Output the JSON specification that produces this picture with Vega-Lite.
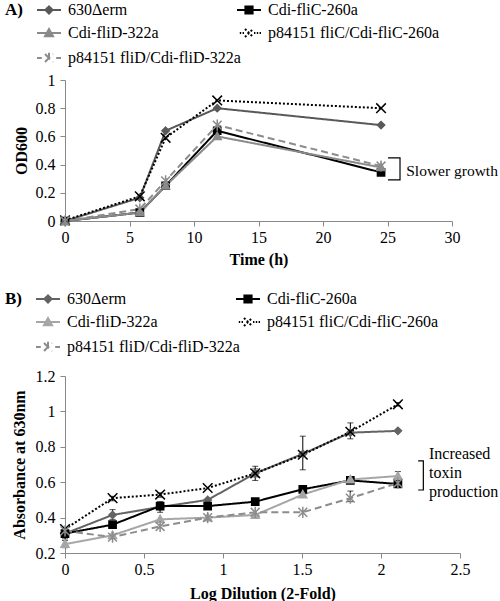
{
  "$schema": "https://vega.github.io/schema/vega-lite/v6.json",
  "background": "white",
  "padding": {"left": 5, "top": 2, "right": 0, "bottom": 0},
  "bounds": "flush",
  "spacing": 155,
  "config": {
    "font": "Liberation Serif",
    "view": {"stroke": null},
    "axis": {
      "grid": false,
      "domainColor": "#898989",
      "tickColor": "#898989",
      "tickSize": 5,
      "labelOverlap": false,
      "labelFont": "Liberation Serif",
      "titleFont": "Liberation Serif",
      "labelFontSize": 16,
      "titleFontSize": 16,
      "titleFontWeight": "bold",
      "labelColor": "#000000",
      "titleColor": "#000000"
    },
    "axisX": {"labelPadding": 3, "titlePadding": 6, "labelFlush": false},
    "axisY": {"labelPadding": 5, "titlePadding": 7},
    "legend": {
      "labelFont": "Liberation Serif",
      "labelFontSize": 16,
      "labelColor": "#000000",
      "titleFont": "Liberation Serif",
      "titleFontSize": 17,
      "titleFontWeight": "bold",
      "titleColor": "#000000",
      "titleOrient": "left",
      "titleAnchor": "start",
      "titlePadding": 18,
      "columns": 2,
      "direction": "horizontal",
      "columnPadding": -11,
      "rowPadding": 7,
      "symbolSize": 64,
      "symbolStrokeWidth": 2,
      "labelOffset": 11,
      "labelLimit": 300
    }
  },
  "datasets": {
    "growth": [
      {"series": "630Δerm", "time": 0, "od": 0},
      {"series": "630Δerm", "time": 5.8, "od": 0.165},
      {"series": "630Δerm", "time": 7.8, "od": 0.64},
      {"series": "630Δerm", "time": 11.8, "od": 0.8},
      {"series": "630Δerm", "time": 24.5, "od": 0.68},
      {"series": "Cdi-fliC-260a", "time": 0, "od": 0},
      {"series": "Cdi-fliC-260a", "time": 5.8, "od": 0.06},
      {"series": "Cdi-fliC-260a", "time": 7.8, "od": 0.25},
      {"series": "Cdi-fliC-260a", "time": 11.8, "od": 0.64},
      {"series": "Cdi-fliC-260a", "time": 24.5, "od": 0.345},
      {"series": "Cdi-fliD-322a", "time": 0, "od": 0},
      {"series": "Cdi-fliD-322a", "time": 5.8, "od": 0.06},
      {"series": "Cdi-fliD-322a", "time": 7.8, "od": 0.25},
      {"series": "Cdi-fliD-322a", "time": 11.8, "od": 0.6},
      {"series": "Cdi-fliD-322a", "time": 24.5, "od": 0.38},
      {"series": "p84151 fliC/Cdi-fliC-260a", "time": 0, "od": 0.005},
      {"series": "p84151 fliC/Cdi-fliC-260a", "time": 5.8, "od": 0.175},
      {"series": "p84151 fliC/Cdi-fliC-260a", "time": 7.8, "od": 0.59},
      {"series": "p84151 fliC/Cdi-fliC-260a", "time": 11.8, "od": 0.855},
      {"series": "p84151 fliC/Cdi-fliC-260a", "time": 24.5, "od": 0.8},
      {"series": "p84151 fliD/Cdi-fliD-322a", "time": 0, "od": 0},
      {"series": "p84151 fliD/Cdi-fliD-322a", "time": 5.8, "od": 0.085},
      {"series": "p84151 fliD/Cdi-fliD-322a", "time": 7.8, "od": 0.285},
      {"series": "p84151 fliD/Cdi-fliD-322a", "time": 11.8, "od": 0.68},
      {"series": "p84151 fliD/Cdi-fliD-322a", "time": 24.5, "od": 0.39}
    ],
    "toxin": [
      {"series": "630Δerm", "dil": 0, "abs": 0.31, "lo": null, "hi": null},
      {"series": "630Δerm", "dil": 0.301, "abs": 0.415, "lo": 0.39, "hi": 0.445},
      {"series": "630Δerm", "dil": 0.602, "abs": 0.46, "lo": null, "hi": null},
      {"series": "630Δerm", "dil": 0.903, "abs": 0.5, "lo": null, "hi": null},
      {"series": "630Δerm", "dil": 1.204, "abs": 0.65, "lo": 0.61, "hi": 0.69},
      {"series": "630Δerm", "dil": 1.505, "abs": 0.76, "lo": 0.67, "hi": 0.86},
      {"series": "630Δerm", "dil": 1.806, "abs": 0.88, "lo": 0.845, "hi": 0.935},
      {"series": "630Δerm", "dil": 2.107, "abs": 0.89, "lo": null, "hi": null},
      {"series": "Cdi-fliC-260a", "dil": 0, "abs": 0.31, "lo": 0.28, "hi": 0.335},
      {"series": "Cdi-fliC-260a", "dil": 0.301, "abs": 0.36, "lo": null, "hi": null},
      {"series": "Cdi-fliC-260a", "dil": 0.602, "abs": 0.465, "lo": 0.43, "hi": 0.49},
      {"series": "Cdi-fliC-260a", "dil": 0.903, "abs": 0.465, "lo": null, "hi": null},
      {"series": "Cdi-fliC-260a", "dil": 1.204, "abs": 0.49, "lo": null, "hi": null},
      {"series": "Cdi-fliC-260a", "dil": 1.505, "abs": 0.56, "lo": null, "hi": null},
      {"series": "Cdi-fliC-260a", "dil": 1.806, "abs": 0.61, "lo": null, "hi": null},
      {"series": "Cdi-fliC-260a", "dil": 2.107, "abs": 0.59, "lo": 0.57, "hi": 0.61},
      {"series": "Cdi-fliD-322a", "dil": 0, "abs": 0.25, "lo": 0.23, "hi": 0.27},
      {"series": "Cdi-fliD-322a", "dil": 0.301, "abs": 0.3, "lo": null, "hi": null},
      {"series": "Cdi-fliD-322a", "dil": 0.602, "abs": 0.39, "lo": null, "hi": null},
      {"series": "Cdi-fliD-322a", "dil": 0.903, "abs": 0.4, "lo": null, "hi": null},
      {"series": "Cdi-fliD-322a", "dil": 1.204, "abs": 0.415, "lo": null, "hi": null},
      {"series": "Cdi-fliD-322a", "dil": 1.505, "abs": 0.53, "lo": null, "hi": null},
      {"series": "Cdi-fliD-322a", "dil": 1.806, "abs": 0.615, "lo": null, "hi": null},
      {"series": "Cdi-fliD-322a", "dil": 2.107, "abs": 0.635, "lo": 0.61, "hi": 0.66},
      {"series": "p84151 fliC/Cdi-fliC-260a", "dil": 0, "abs": 0.335, "lo": null, "hi": null},
      {"series": "p84151 fliC/Cdi-fliC-260a", "dil": 0.301, "abs": 0.51, "lo": 0.495, "hi": 0.52},
      {"series": "p84151 fliC/Cdi-fliC-260a", "dil": 0.602, "abs": 0.53, "lo": 0.515, "hi": 0.54},
      {"series": "p84151 fliC/Cdi-fliC-260a", "dil": 0.903, "abs": 0.567, "lo": null, "hi": null},
      {"series": "p84151 fliC/Cdi-fliC-260a", "dil": 1.204, "abs": 0.65, "lo": 0.63, "hi": 0.675},
      {"series": "p84151 fliC/Cdi-fliC-260a", "dil": 1.505, "abs": 0.755, "lo": null, "hi": null},
      {"series": "p84151 fliC/Cdi-fliC-260a", "dil": 1.806, "abs": 0.885, "lo": null, "hi": null},
      {"series": "p84151 fliC/Cdi-fliC-260a", "dil": 2.107, "abs": 1.04, "lo": 1.03, "hi": 1.05},
      {"series": "p84151 fliD/Cdi-fliD-322a", "dil": 0, "abs": 0.325, "lo": null, "hi": null},
      {"series": "p84151 fliD/Cdi-fliD-322a", "dil": 0.301, "abs": 0.29, "lo": null, "hi": null},
      {"series": "p84151 fliD/Cdi-fliD-322a", "dil": 0.602, "abs": 0.35, "lo": null, "hi": null},
      {"series": "p84151 fliD/Cdi-fliD-322a", "dil": 0.903, "abs": 0.4, "lo": null, "hi": null},
      {"series": "p84151 fliD/Cdi-fliD-322a", "dil": 1.204, "abs": 0.43, "lo": null, "hi": null},
      {"series": "p84151 fliD/Cdi-fliD-322a", "dil": 1.505, "abs": 0.43, "lo": null, "hi": null},
      {"series": "p84151 fliD/Cdi-fliD-322a", "dil": 1.806, "abs": 0.51, "lo": 0.49, "hi": 0.55},
      {"series": "p84151 fliD/Cdi-fliD-322a", "dil": 2.107, "abs": 0.595, "lo": null, "hi": null}
    ],
    "bracketA": [
      {"x": 25.04, "y": 0.447, "o": 1},
      {"x": 25.97, "y": 0.447, "o": 2},
      {"x": 25.97, "y": 0.291, "o": 3},
      {"x": 25.04, "y": 0.291, "o": 4}
    ],
    "noteA": [{"x": 26.45, "y": 0.355, "label": "Slower growth"}],
    "bracketB": [
      {"x": 2.235, "y": 0.72, "o": 1},
      {"x": 2.268, "y": 0.72, "o": 2},
      {"x": 2.268, "y": 0.556, "o": 3},
      {"x": 2.235, "y": 0.556, "o": 4}
    ],
    "noteB": [{"x": 2.304, "y": 0.76, "label": "Increased\ntoxin\nproduction"}]
  },
  "resolve": {
    "scale": {"color": "independent", "fill": "independent", "shape": "independent", "stroke": "independent", "strokeDash": "independent"},
    "legend": {"color": "independent", "fill": "independent", "shape": "independent", "stroke": "independent", "strokeDash": "independent"}
  },
  "vconcat": [
    {
      "width": 387,
      "height": 141,
      "layer": [
        {
          "data": {"name": "growth"},
          "transform": [{"filter": "false"}],
          "mark": {"type": "point", "filled": false, "opacity": 1, "strokeWidth": 2, "size": 64},
          "encoding": {
            "shape": {"field": "series", "type": "nominal", "scale": {"domain": ["630Δerm", "Cdi-fliC-260a", "Cdi-fliD-322a", "p84151 fliC/Cdi-fliC-260a", "p84151 fliD/Cdi-fliD-322a"], "range": ["M-3,0H3M0,-0.9L0.9,0L0,0.9L-0.9,0Z", "M-3,0H3M-0.9,-0.9H0.9V0.9H-0.9Z", "M-3,0H3M0,-1L1,0.8H-1Z", "M-2.3,0H-1.95M-1.6,0H-1.25M1.25,0H1.6M1.95,0H2.3M2.65,0H3M-1,-1L1,1M-1,1L1,-1", "M-3,0H-1.8M1.8,0H3M-1,-1L1,1M-1,1L1,-1M0,-1.3V1.3"]}, "legend": {"title": "A)", "orient": "none", "legendX": -60, "legendY": -78}},
            "color": {"field": "series", "type": "nominal", "scale": {"domain": ["630Δerm", "Cdi-fliC-260a", "Cdi-fliD-322a", "p84151 fliC/Cdi-fliC-260a", "p84151 fliD/Cdi-fliD-322a"], "range": ["#595959", "#000000", "#8a8a8a", "#000000", "#8c8c8c"]}, "legend": {"title": "A)", "orient": "none", "legendX": -60, "legendY": -78}},
            "fill": {"field": "series", "type": "nominal", "scale": {"domain": ["630Δerm", "Cdi-fliC-260a", "Cdi-fliD-322a", "p84151 fliC/Cdi-fliC-260a", "p84151 fliD/Cdi-fliD-322a"], "range": ["#595959", "#000000", "#8a8a8a", "#000000", "#8c8c8c"]}, "legend": {"title": "A)", "orient": "none", "legendX": -60, "legendY": -78}}
          }
        },
        {
          "data": {"name": "growth"},
          "mark": {"type": "line", "strokeWidth": 2},
          "encoding": {
            "x": {"field": "time", "type": "quantitative", "scale": {"domain": [0, 30]}, "axis": {"values": [0, 5, 10, 15, 20, 25, 30], "tickCount": 20, "labelOverlap": false}, "title": "Time (h)"},
            "y": {"field": "od", "type": "quantitative", "scale": {"domain": [0, 1]}, "axis": {"values": [0, 0.2, 0.4, 0.6, 0.8, 1], "tickCount": 20, "format": "~g", "titlePadding": 6, "labelOverlap": false}, "title": "OD600"},
            "stroke": {"field": "series", "type": "nominal", "scale": {"domain": ["630Δerm", "Cdi-fliC-260a", "Cdi-fliD-322a", "p84151 fliC/Cdi-fliC-260a", "p84151 fliD/Cdi-fliD-322a"], "range": ["#595959", "#000000", "#8a8a8a", "#000000", "#8c8c8c"]}, "legend": null},
            "strokeDash": {"field": "series", "type": "nominal", "scale": {"domain": ["630Δerm", "Cdi-fliC-260a", "Cdi-fliD-322a", "p84151 fliC/Cdi-fliC-260a", "p84151 fliD/Cdi-fliD-322a"], "range": [[1, 0], [1, 0], [1, 0], [2, 2], [7, 4]]}, "legend": null}
          }
        },
        {
          "data": {"name": "growth"},
          "transform": [{"filter": "datum.series == '630Δerm'"}],
          "mark": {"type": "point", "shape": "M0,-0.9L0.9,0L0,0.9L-0.9,0Z", "fill": "#595959", "stroke": "#595959", "opacity": 1, "strokeWidth": 1.5, "size": 64},
          "encoding": {
            "x": {"field": "time", "type": "quantitative", "scale": {"domain": [0, 30]}, "title": "Time (h)"},
            "y": {"field": "od", "type": "quantitative", "scale": {"domain": [0, 1]}, "title": "OD600"}
          }
        },
        {
          "data": {"name": "growth"},
          "transform": [{"filter": "datum.series == 'Cdi-fliC-260a'"}],
          "mark": {"type": "point", "shape": "M-0.9,-0.9H0.9V0.9H-0.9Z", "fill": "#000000", "stroke": "#000000", "opacity": 1, "strokeWidth": 1.5, "size": 64},
          "encoding": {
            "x": {"field": "time", "type": "quantitative", "scale": {"domain": [0, 30]}, "title": "Time (h)"},
            "y": {"field": "od", "type": "quantitative", "scale": {"domain": [0, 1]}, "title": "OD600"}
          }
        },
        {
          "data": {"name": "growth"},
          "transform": [{"filter": "datum.series == 'Cdi-fliD-322a'"}],
          "mark": {"type": "point", "shape": "M0,-1L1,0.8H-1Z", "fill": "#8a8a8a", "stroke": "#8a8a8a", "opacity": 1, "strokeWidth": 1.5, "size": 64},
          "encoding": {
            "x": {"field": "time", "type": "quantitative", "scale": {"domain": [0, 30]}, "title": "Time (h)"},
            "y": {"field": "od", "type": "quantitative", "scale": {"domain": [0, 1]}, "title": "OD600"}
          }
        },
        {
          "data": {"name": "growth"},
          "transform": [{"filter": "datum.series == 'p84151 fliC/Cdi-fliC-260a'"}],
          "mark": {"type": "point", "shape": "M-1.2,-1.2L1.2,1.2M-1.2,1.2L1.2,-1.2", "fill": "transparent", "stroke": "#000000", "opacity": 1, "strokeWidth": 1.5, "size": 64},
          "encoding": {
            "x": {"field": "time", "type": "quantitative", "scale": {"domain": [0, 30]}, "title": "Time (h)"},
            "y": {"field": "od", "type": "quantitative", "scale": {"domain": [0, 1]}, "title": "OD600"}
          }
        },
        {
          "data": {"name": "growth"},
          "transform": [{"filter": "datum.series == 'p84151 fliD/Cdi-fliD-322a'"}],
          "mark": {"type": "point", "shape": "M-1.1,-1.1L1.1,1.1M-1.1,1.1L1.1,-1.1M0,-1.4V1.4", "fill": "transparent", "stroke": "#8c8c8c", "opacity": 1, "strokeWidth": 1.5, "size": 64},
          "encoding": {
            "x": {"field": "time", "type": "quantitative", "scale": {"domain": [0, 30]}, "title": "Time (h)"},
            "y": {"field": "od", "type": "quantitative", "scale": {"domain": [0, 1]}, "title": "OD600"}
          }
        },
        {
          "data": {"name": "bracketA"},
          "mark": {"type": "line", "color": "#000000", "strokeWidth": 1.2},
          "encoding": {
            "x": {"field": "x", "type": "quantitative", "scale": {"domain": [0, 30]}, "title": "Time (h)"},
            "y": {"field": "y", "type": "quantitative", "scale": {"domain": [0, 1]}, "title": "OD600"},
            "order": {"field": "o", "type": "quantitative"}
          }
        },
        {
          "data": {"name": "noteA"},
          "mark": {"type": "text", "align": "left", "baseline": "middle", "fontSize": 15.5, "font": "Liberation Serif", "color": "#000000"},
          "encoding": {
            "x": {"field": "x", "type": "quantitative", "scale": {"domain": [0, 30]}, "title": "Time (h)"},
            "y": {"field": "y", "type": "quantitative", "scale": {"domain": [0, 1]}, "title": "OD600"},
            "text": {"field": "label"}
          }
        }
      ]
    },
    {
      "width": 395,
      "height": 177,
      "layer": [
        {
          "data": {"name": "toxin"},
          "transform": [{"filter": "false"}],
          "mark": {"type": "point", "filled": false, "opacity": 1, "strokeWidth": 2, "size": 64},
          "encoding": {
            "shape": {"field": "series", "type": "nominal", "scale": {"domain": ["630Δerm", "Cdi-fliC-260a", "Cdi-fliD-322a", "p84151 fliC/Cdi-fliC-260a", "p84151 fliD/Cdi-fliD-322a"], "range": ["M-3,0H3M0,-0.9L0.9,0L0,0.9L-0.9,0Z", "M-3,0H3M-0.9,-0.9H0.9V0.9H-0.9Z", "M-3,0H3M0,-1L1,0.8H-1Z", "M-2.3,0H-1.95M-1.6,0H-1.25M1.25,0H1.6M1.95,0H2.3M2.65,0H3M-1,-1L1,1M-1,1L1,-1", "M-3,0H-1.8M1.8,0H3M-1,-1L1,1M-1,1L1,-1M0,-1.3V1.3"]}, "legend": {"title": "B)", "orient": "none", "legendX": -60, "legendY": -85}},
            "color": {"field": "series", "type": "nominal", "scale": {"domain": ["630Δerm", "Cdi-fliC-260a", "Cdi-fliD-322a", "p84151 fliC/Cdi-fliC-260a", "p84151 fliD/Cdi-fliD-322a"], "range": ["#636363", "#000000", "#a6a6a6", "#000000", "#8c8c8c"]}, "legend": {"title": "B)", "orient": "none", "legendX": -60, "legendY": -85}},
            "fill": {"field": "series", "type": "nominal", "scale": {"domain": ["630Δerm", "Cdi-fliC-260a", "Cdi-fliD-322a", "p84151 fliC/Cdi-fliC-260a", "p84151 fliD/Cdi-fliD-322a"], "range": ["#636363", "#000000", "#a6a6a6", "#000000", "#8c8c8c"]}, "legend": {"title": "B)", "orient": "none", "legendX": -60, "legendY": -85}}
          }
        },
        {
          "data": {"name": "toxin"},
          "transform": [{"filter": "isValid(datum.lo)"}],
          "mark": {"type": "errorbar", "ticks": {"size": 6, "color": "#000000"}, "rule": {"color": "#000000", "strokeWidth": 1}},
          "encoding": {
            "x": {"field": "dil", "type": "quantitative", "scale": {"domain": [0, 2.5]}, "title": "Log Dilution (2-Fold)"},
            "y": {"field": "lo", "type": "quantitative", "scale": {"domain": [0.2, 1.2]}, "title": "Absorbance at 630nm"},
            "y2": {"field": "hi"}
          }
        },
        {
          "data": {"name": "toxin"},
          "mark": {"type": "line", "strokeWidth": 2},
          "encoding": {
            "x": {"field": "dil", "type": "quantitative", "scale": {"domain": [0, 2.5]}, "axis": {"values": [0, 0.5, 1, 1.5, 2, 2.5], "tickCount": 20, "format": "~g", "titlePadding": 8, "labelOverlap": false}, "title": "Log Dilution (2-Fold)"},
            "y": {"field": "abs", "type": "quantitative", "scale": {"domain": [0.2, 1.2]}, "axis": {"values": [0.2, 0.4, 0.6, 0.8, 1, 1.2], "tickCount": 20, "format": "~g", "titlePadding": 8, "labelOverlap": false}, "title": "Absorbance at 630nm"},
            "stroke": {"field": "series", "type": "nominal", "scale": {"domain": ["630Δerm", "Cdi-fliC-260a", "Cdi-fliD-322a", "p84151 fliC/Cdi-fliC-260a", "p84151 fliD/Cdi-fliD-322a"], "range": ["#636363", "#000000", "#a6a6a6", "#000000", "#8c8c8c"]}, "legend": null},
            "strokeDash": {"field": "series", "type": "nominal", "scale": {"domain": ["630Δerm", "Cdi-fliC-260a", "Cdi-fliD-322a", "p84151 fliC/Cdi-fliC-260a", "p84151 fliD/Cdi-fliD-322a"], "range": [[1, 0], [1, 0], [1, 0], [2, 2], [7, 4]]}, "legend": null}
          }
        },
        {
          "data": {"name": "toxin"},
          "transform": [{"filter": "datum.series == '630Δerm'"}],
          "mark": {"type": "point", "shape": "M0,-0.9L0.9,0L0,0.9L-0.9,0Z", "fill": "#636363", "stroke": "#636363", "opacity": 1, "strokeWidth": 1.5, "size": 64},
          "encoding": {
            "x": {"field": "dil", "type": "quantitative", "scale": {"domain": [0, 2.5]}, "title": "Log Dilution (2-Fold)"},
            "y": {"field": "abs", "type": "quantitative", "scale": {"domain": [0.2, 1.2]}, "title": "Absorbance at 630nm"}
          }
        },
        {
          "data": {"name": "toxin"},
          "transform": [{"filter": "datum.series == 'Cdi-fliC-260a'"}],
          "mark": {"type": "point", "shape": "M-0.9,-0.9H0.9V0.9H-0.9Z", "fill": "#000000", "stroke": "#000000", "opacity": 1, "strokeWidth": 1.5, "size": 64},
          "encoding": {
            "x": {"field": "dil", "type": "quantitative", "scale": {"domain": [0, 2.5]}, "title": "Log Dilution (2-Fold)"},
            "y": {"field": "abs", "type": "quantitative", "scale": {"domain": [0.2, 1.2]}, "title": "Absorbance at 630nm"}
          }
        },
        {
          "data": {"name": "toxin"},
          "transform": [{"filter": "datum.series == 'Cdi-fliD-322a'"}],
          "mark": {"type": "point", "shape": "M0,-1L1,0.8H-1Z", "fill": "#a6a6a6", "stroke": "#a6a6a6", "opacity": 1, "strokeWidth": 1.5, "size": 64},
          "encoding": {
            "x": {"field": "dil", "type": "quantitative", "scale": {"domain": [0, 2.5]}, "title": "Log Dilution (2-Fold)"},
            "y": {"field": "abs", "type": "quantitative", "scale": {"domain": [0.2, 1.2]}, "title": "Absorbance at 630nm"}
          }
        },
        {
          "data": {"name": "toxin"},
          "transform": [{"filter": "datum.series == 'p84151 fliC/Cdi-fliC-260a'"}],
          "mark": {"type": "point", "shape": "M-1.2,-1.2L1.2,1.2M-1.2,1.2L1.2,-1.2", "fill": "transparent", "stroke": "#000000", "opacity": 1, "strokeWidth": 1.5, "size": 64},
          "encoding": {
            "x": {"field": "dil", "type": "quantitative", "scale": {"domain": [0, 2.5]}, "title": "Log Dilution (2-Fold)"},
            "y": {"field": "abs", "type": "quantitative", "scale": {"domain": [0.2, 1.2]}, "title": "Absorbance at 630nm"}
          }
        },
        {
          "data": {"name": "toxin"},
          "transform": [{"filter": "datum.series == 'p84151 fliD/Cdi-fliD-322a'"}],
          "mark": {"type": "point", "shape": "M-1.1,-1.1L1.1,1.1M-1.1,1.1L1.1,-1.1M0,-1.4V1.4", "fill": "transparent", "stroke": "#8c8c8c", "opacity": 1, "strokeWidth": 1.5, "size": 64},
          "encoding": {
            "x": {"field": "dil", "type": "quantitative", "scale": {"domain": [0, 2.5]}, "title": "Log Dilution (2-Fold)"},
            "y": {"field": "abs", "type": "quantitative", "scale": {"domain": [0.2, 1.2]}, "title": "Absorbance at 630nm"}
          }
        },
        {
          "data": {"name": "bracketB"},
          "mark": {"type": "line", "color": "#000000", "strokeWidth": 1.2},
          "encoding": {
            "x": {"field": "x", "type": "quantitative", "scale": {"domain": [0, 2.5]}, "title": "Log Dilution (2-Fold)"},
            "y": {"field": "y", "type": "quantitative", "scale": {"domain": [0.2, 1.2]}, "title": "Absorbance at 630nm"},
            "order": {"field": "o", "type": "quantitative"}
          }
        },
        {
          "data": {"name": "noteB"},
          "mark": {"type": "text", "align": "left", "baseline": "middle", "fontSize": 16, "font": "Liberation Serif", "color": "#000000", "lineBreak": "\n", "lineHeight": 19},
          "encoding": {
            "x": {"field": "x", "type": "quantitative", "scale": {"domain": [0, 2.5]}, "title": "Log Dilution (2-Fold)"},
            "y": {"field": "y", "type": "quantitative", "scale": {"domain": [0.2, 1.2]}, "title": "Absorbance at 630nm"},
            "text": {"field": "label"}
          }
        }
      ]
    }
  ]
}
